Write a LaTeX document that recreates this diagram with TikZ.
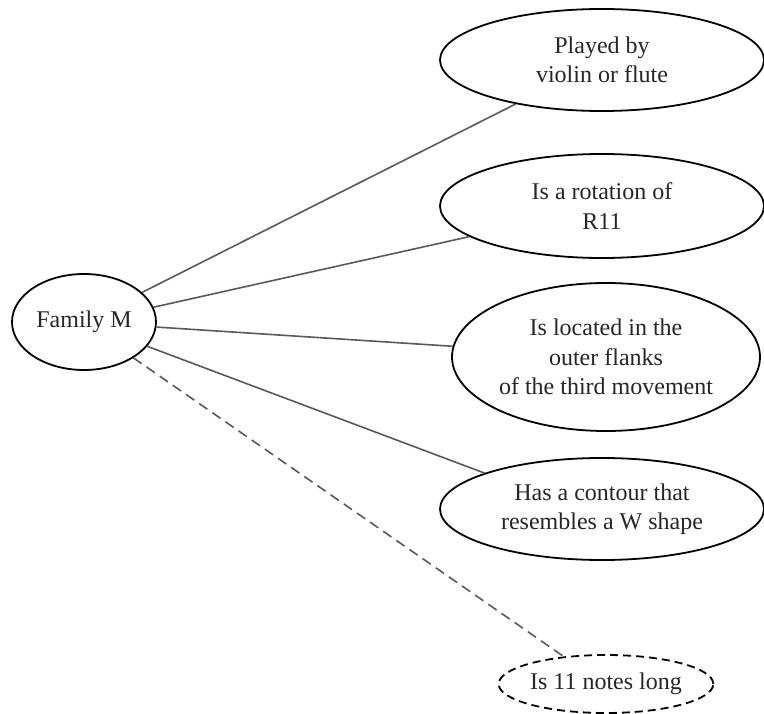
\documentclass[tikz,border=0pt]{standalone}
\usepackage{fontspec}
\setmainfont{Liberation Serif}
\usetikzlibrary{shapes.geometric}
\begin{document}
\begin{tikzpicture}[x=1pt,y=-1pt,
  bubble/.style={ellipse,draw=black,line width=1.8pt,inner sep=0pt,align=center,
    font=\fontsize{24}{29.5}\selectfont,text=black!85},
  link/.style={draw=black!65,line width=1.6pt},
  weaklink/.style={link,dashed,dash pattern=on 10pt off 6pt}]
\useasboundingbox (0,0) rectangle (764,714);
\fill[white] (0,0) rectangle (764,714);

\node[bubble,minimum width=144pt,minimum height=96pt] (fam) at (84,322) {Family M};

\node[bubble,minimum width=324pt,minimum height=102pt] (inst) at (602,60)
  {Played by\\ violin or flute};
\node[bubble,minimum width=324pt,minimum height=104pt] (rot) at (602,206)
  {Is a rotation of\\ R11};
\node[bubble,minimum width=308pt,minimum height=148pt] (loc) at (606,357)
  {Is located in the\\ outer flanks\\ of the third movement};
\node[bubble,minimum width=324pt,minimum height=102pt] (cont) at (602,509)
  {Has a contour that\\ resembles a W shape};
\node[bubble,dashed,dash pattern=on 8pt off 5pt,minimum width=204pt,minimum height=58pt] (len) at (606,684)
  {Is 11 notes long};

\draw[link] (fam.27.4) -- (inst.207.9);
\draw[link] (fam.12.4) -- (rot.193.5);
\draw[link] (fam.-4) -- (loc.176.3);
\draw[link] (fam.-21.6) -- (cont.163.4);
\draw[weaklink] (fam.-36.3) -- (len.147.9);
\end{tikzpicture}
\end{document}
